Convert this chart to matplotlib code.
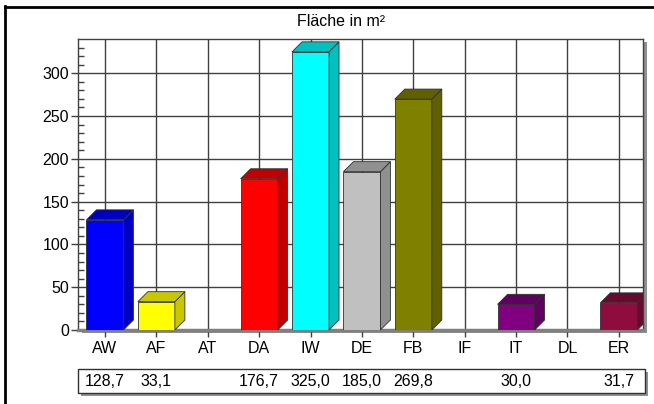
import matplotlib
matplotlib.use("Agg")
import matplotlib.pyplot as plt
import matplotlib.transforms as mtransforms
from matplotlib.patches import Rectangle, Polygon
from matplotlib.lines import Line2D
import numpy as np

plt.rcParams['font.family'] = ['Liberation Sans', 'DejaVu Sans']

categories = ['AW', 'AF', 'AT', 'DA', 'IW', 'DE', 'FB', 'IF', 'IT', 'DL', 'ER']
values = [128.7, 33.1, 0.0, 176.7, 325.0, 185.0, 269.8, 0.0, 30.0, 0.0, 31.7]
table_labels = ['128,7', '33,1', '', '176,7', '325,0', '185,0', '269,8', '', '30,0', '', '31,7']
front_colors = ['#0000ff', '#ffff00', '#ffffff', '#ff0000', '#00ffff', '#c0c0c0',
                '#808000', '#ffffff', '#800080', '#ffffff', '#8f0c3f']
side_colors = ['#0000c0', '#c8c800', '#ffffff', '#c00000', '#00c0c0', '#909090',
               '#606000', '#ffffff', '#600060', '#ffffff', '#680a30']

W, H = 654, 404
fig = plt.figure(figsize=(W / 100, H / 100), dpi=100)
fig.patch.set_facecolor('white')

# plot area in pixels
L, R, T, B = 78, 643, 39, 330
xmin, xmax = -0.525, 10.47
ymin, ymax = 0, 340
fs = 11.5

# drop shadow of the plot area
fig.add_artist(Rectangle(((L + 4) / W, (H - B - 3) / H), (R - L) / W, (B - T) / H,
                         transform=fig.transFigure, facecolor='#909090',
                         edgecolor='none', zorder=-5))

ax = fig.add_axes([L / W, (H - B) / H, (R - L) / W, (B - T) / H])
ax.set_zorder(1)
ax.set_facecolor('white')
ax.set_xlim(xmin, xmax)
ax.set_ylim(ymin, ymax)

x = np.arange(len(categories))
bw = 0.72
dx = 10 / ((R - L) / (xmax - xmin))
dy = 10 / ((B - T) / (ymax - ymin))

for i, v in enumerate(values):
    if v <= 0:
        continue
    x0, x1 = x[i] - bw / 2, x[i] + bw / 2
    ax.add_patch(Rectangle((x0, 0), bw, v, facecolor=front_colors[i],
                           edgecolor='#303030', lw=0.6, zorder=3))
    ax.add_patch(Polygon([[x1, 0], [x1 + dx, dy], [x1 + dx, v + dy], [x1, v]],
                         facecolor=side_colors[i], edgecolor='#303030', lw=0.6, zorder=3))
    ax.add_patch(Polygon([[x0, v], [x1, v], [x1 + dx, v + dy], [x0 + dx, v + dy]],
                         facecolor=side_colors[i], edgecolor='#303030', lw=0.6, zorder=3))

ax.set_yticks(np.arange(0, 301, 50))
ax.set_yticks([t for t in range(10, 340, 10) if t % 50], minor=True)
ax.set_xticks(x)
ax.set_xticklabels(categories)
ax.grid(True, which='major', color='#404040', lw=1, zorder=1)
ax.set_axisbelow(True)
ax.tick_params(axis='y', which='major', direction='out', length=5, width=1,
               color='#404040', pad=1.5, labelsize=fs)
ax.tick_params(axis='y', which='minor', direction='in', length=4, width=1, color='#404040')
ax.tick_params(axis='x', which='major', direction='out', length=5, width=1,
               color='#404040', pad=3, labelsize=fs)
for s in ['left', 'top', 'right']:
    ax.spines[s].set_color('#404040')
    ax.spines[s].set_linewidth(1)
ax.spines['bottom'].set_color('#808080')
ax.spines['bottom'].set_linewidth(2.5)

# title
fig.text(341 / W, 1 - 22 / H, 'Fläche in m²', ha='center', va='center', fontsize=fs)

# data table below the axis
tx0, tx1, ty0, ty1 = 78, 645, 369, 393
fig.add_artist(Rectangle(((tx0 + 3) / W, (H - ty1 - 3) / H), (tx1 - tx0) / W,
                         (ty1 - ty0) / H, transform=fig.transFigure,
                         facecolor='#909090', edgecolor='none', zorder=2))
fig.add_artist(Rectangle((tx0 / W, (H - ty1) / H), (tx1 - tx0) / W,
                         (ty1 - ty0) / H, transform=fig.transFigure,
                         facecolor='white', edgecolor='#303030', lw=1, zorder=3))
trans = mtransforms.blended_transform_factory(ax.transData, fig.transFigure)
for i, lab in enumerate(table_labels):
    fig.text(x[i], 1 - 381 / H, lab, transform=trans, ha='center', va='center',
             fontsize=fs, zorder=4)

# outer frame
fig.add_artist(Line2D([5.5 / W, 5.5 / W], [0, 1 - 6 / H], transform=fig.transFigure,
                      color='black', lw=2, zorder=5))
fig.add_artist(Line2D([5.5 / W, 1], [1 - 6.5 / H, 1 - 6.5 / H], transform=fig.transFigure,
                      color='black', lw=2, zorder=5))

fig.savefig('out.png', dpi=100)
